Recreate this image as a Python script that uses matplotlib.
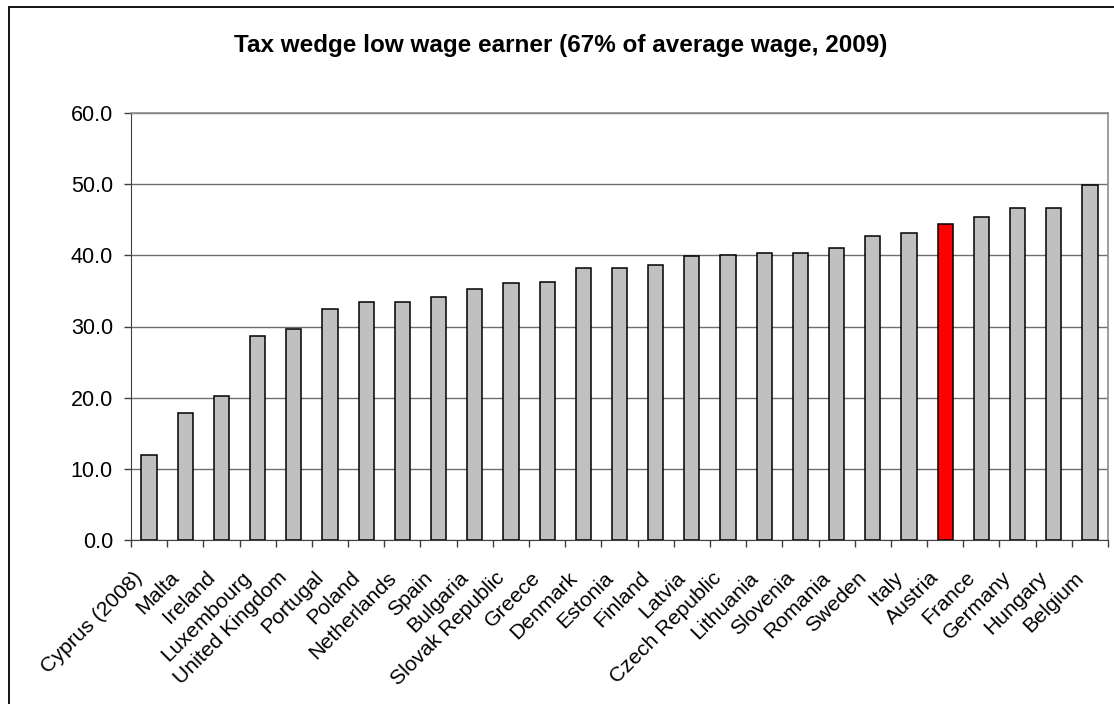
import matplotlib
matplotlib.use("Agg")
import matplotlib.pyplot as plt
import matplotlib.transforms as mtransforms
from matplotlib.patches import Rectangle
import numpy as np

plt.rcParams['font.family'] = ['Liberation Sans', 'DejaVu Sans']

countries = ["Cyprus (2008)", "Malta", "Ireland", "Luxembourg", "United Kingdom",
             "Portugal", "Poland", "Netherlands", "Spain", "Bulgaria",
             "Slovak Republic", "Greece", "Denmark", "Estonia", "Finland",
             "Latvia", "Czech Republic", "Lithuania", "Slovenia", "Romania",
             "Sweden", "Italy", "Austria", "France", "Germany", "Hungary", "Belgium"]
values = [11.9, 17.8, 20.2, 28.7, 29.7, 32.5, 33.4, 33.5, 34.2, 35.3,
          36.1, 36.3, 38.2, 38.2, 38.6, 39.9, 40.1, 40.3, 40.3, 41.0,
          42.7, 43.1, 44.4, 45.4, 46.7, 46.7, 49.9]
highlight = "Austria"
yticks = [0, 10, 20, 30, 40, 50, 60]

W, H = 1114, 704
fig = plt.figure(figsize=(W / 100, H / 100), dpi=100)
ax = fig.add_axes([131 / W, 1 - 540 / H, (1108 - 131) / W, (540 - 113) / H])

x = np.arange(len(countries))
colors = ['#ff0000' if c == highlight else '#c0c0c0' for c in countries]
ax.bar(x, values, width=0.42, color=colors, edgecolor='black', linewidth=1.1, zorder=3)

ax.set_xlim(-0.5, len(countries) - 0.5)
ax.set_ylim(0, 60)
ax.set_yticks(yticks)
ax.set_yticklabels([f"{v:.1f}" for v in yticks], fontsize=15.5)
ax.yaxis.grid(True, color='#6e6e6e', linewidth=1.0, zorder=0)
ax.set_axisbelow(True)

ax.set_xticks(x)
ax.set_xticklabels(countries, fontsize=15.3, rotation=45, ha='right', va='top',
                   rotation_mode='anchor')
ax.set_xticks(np.arange(-0.5, len(countries), 1), minor=True)
ax.tick_params(axis='x', which='major', length=0, pad=0)
ax.tick_params(axis='x', which='minor', length=5, width=1, color='#404040', direction='out')
ax.tick_params(axis='y', length=5, width=1, color='#404040', direction='out', pad=8)

offset = mtransforms.ScaledTranslation(-16 / 100, -28 / 100, fig.dpi_scale_trans)
for lbl in ax.get_xticklabels():
    lbl.set_transform(lbl.get_transform() + offset)

for s in ['top', 'right']:
    ax.spines[s].set_color('#8c8c8c')
    ax.spines[s].set_linewidth(1.2)
ax.spines['left'].set_color('#404040')
ax.spines['bottom'].set_color('#404040')

fig.text(561 / W, 1 - 52 / H, "Tax wedge low wage earner (67% of average wage, 2009)",
         ha='center', va='baseline', fontsize=17.5, fontweight='bold')

fig.patches.append(Rectangle((9 / W, -0.1), 1.2, (H - 7) / H + 0.1,
                             transform=fig.transFigure, fill=False,
                             edgecolor='black', linewidth=1.3))

fig.savefig("out.png", dpi=100)
